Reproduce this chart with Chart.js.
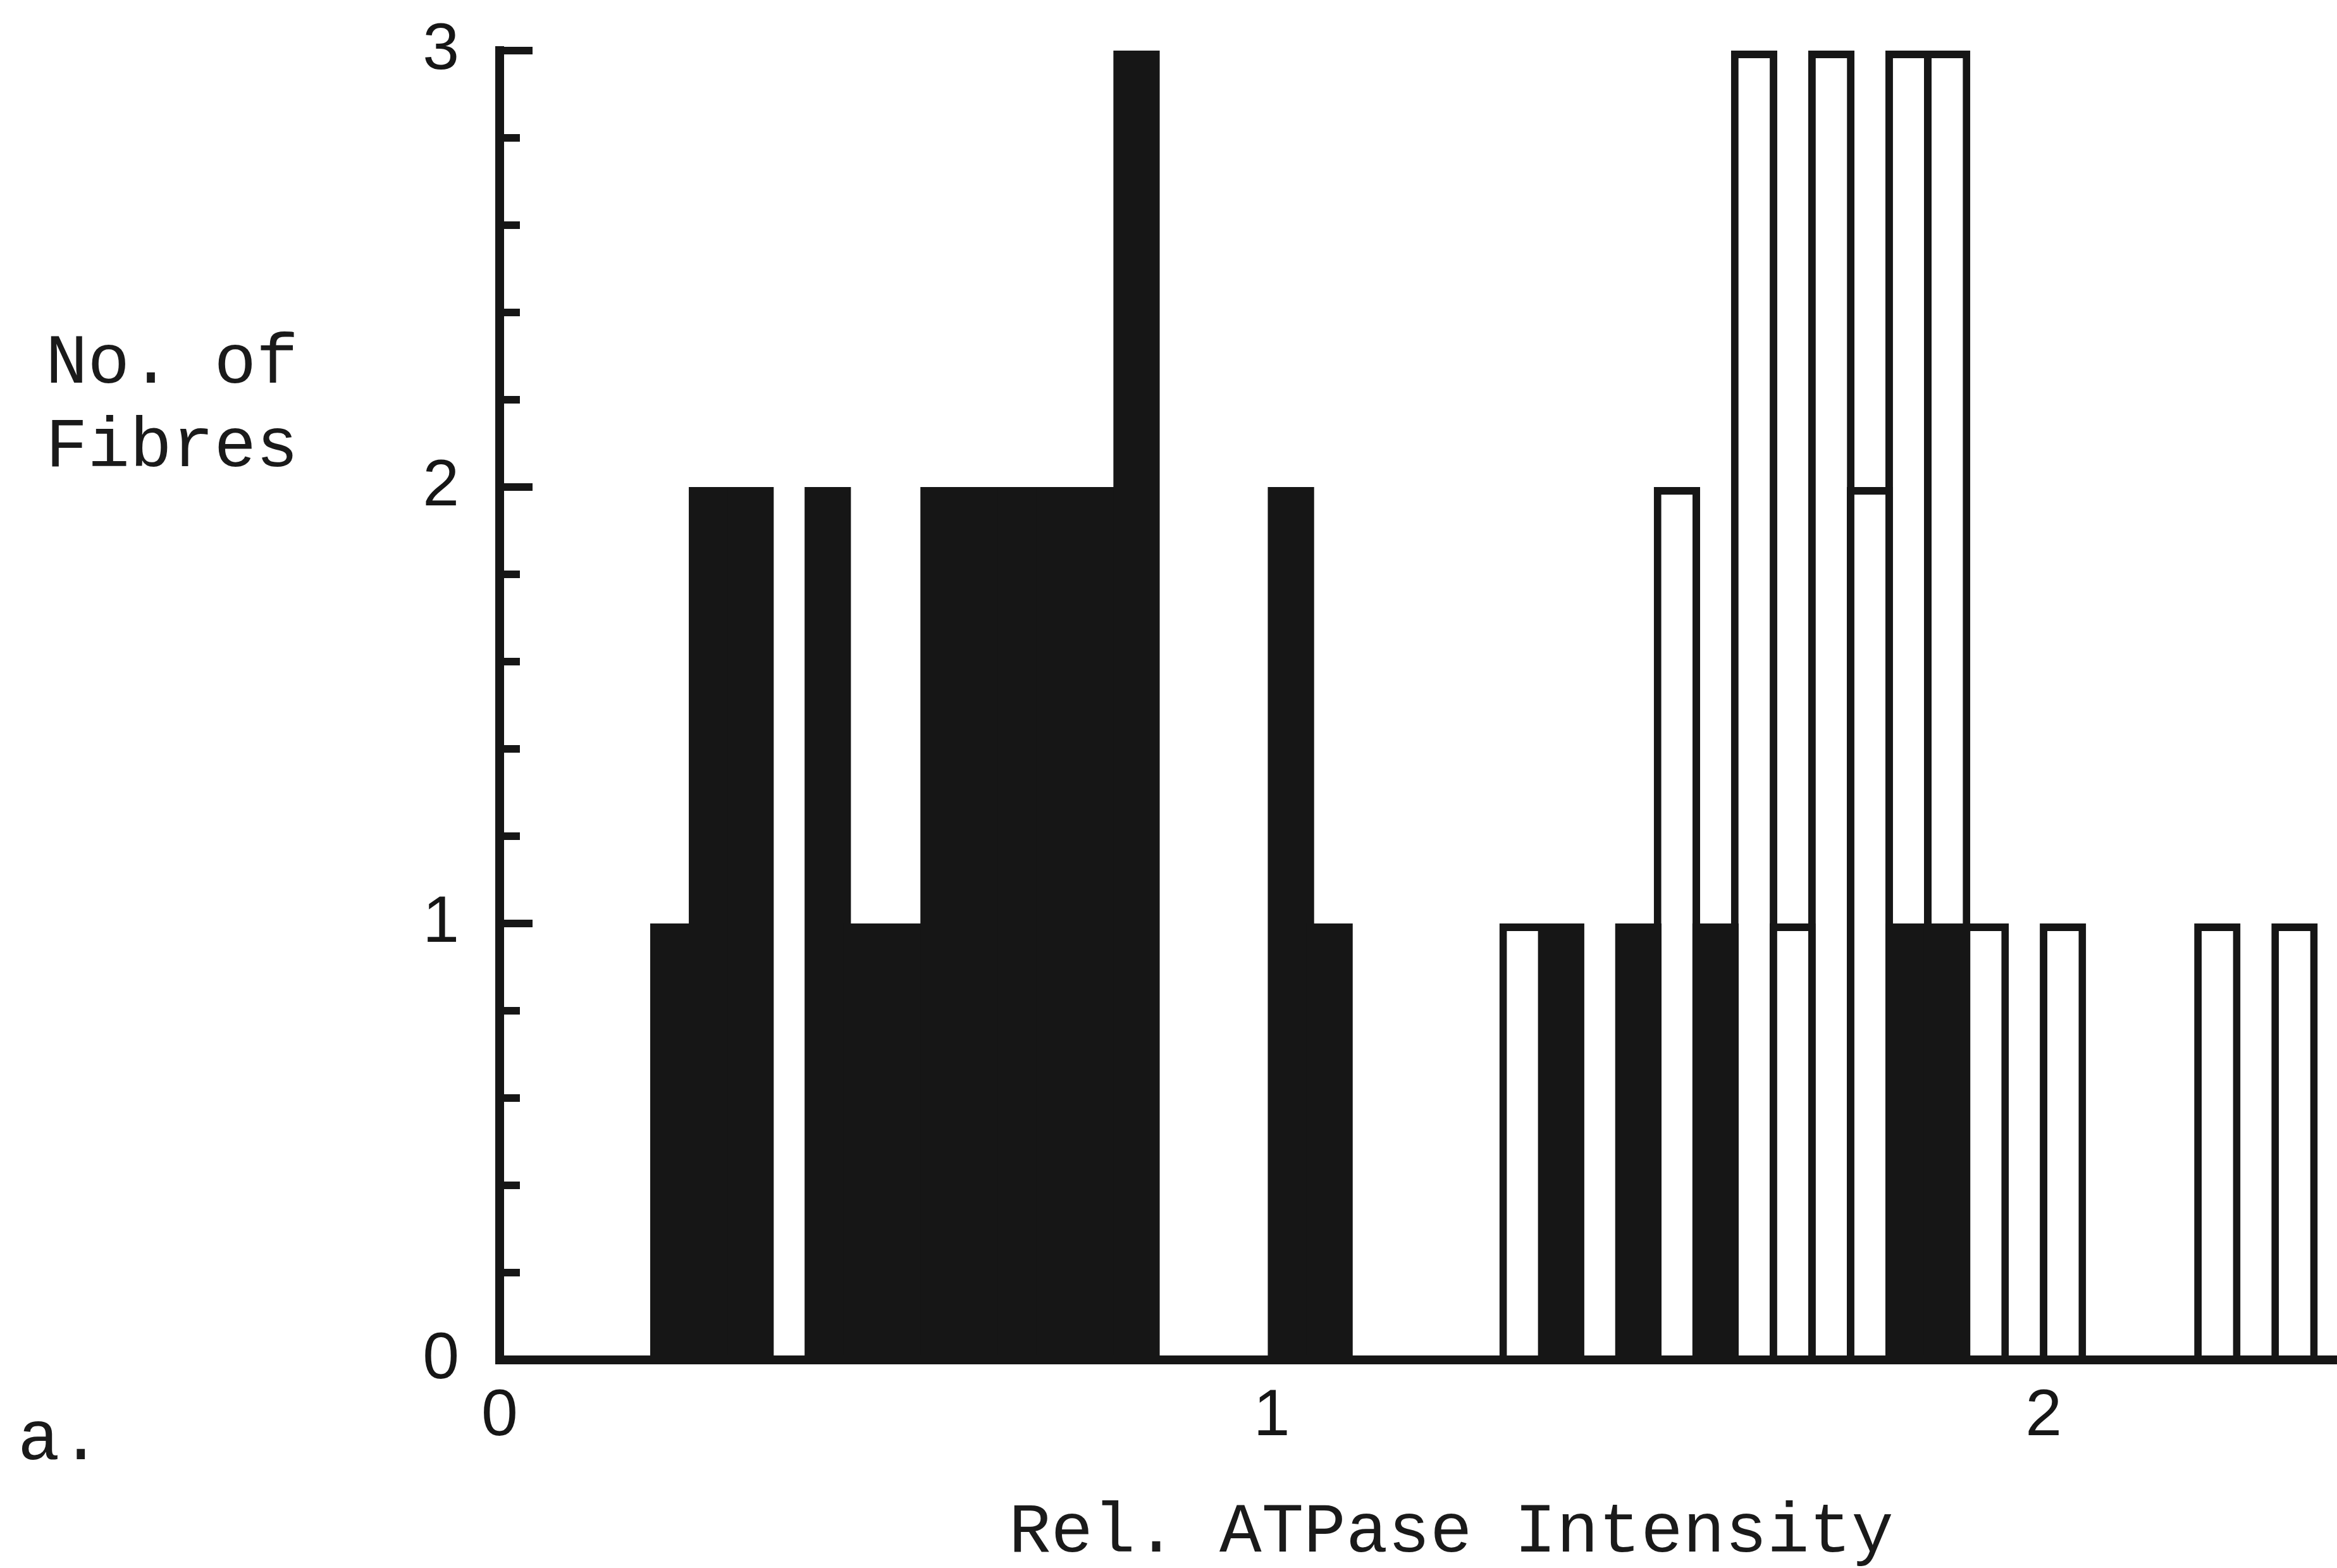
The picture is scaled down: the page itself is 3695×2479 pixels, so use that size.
<!DOCTYPE html>
<html>
<head>
<meta charset="utf-8">
<title>Rel. ATPase Intensity</title>
<script src="https://cdn.jsdelivr.net/npm/chart.js@4.4.1/dist/chart.umd.min.js"></script>
<style>
  html, body { margin: 0; padding: 0; background: #fff; overflow: hidden; }
  #wrap { position: relative; width: 3695px; height: 2479px; }
  #fibreChart { position: absolute; left: 0; top: 0; }
  .label {
    position: absolute;
    font-family: 'Liberation Mono', monospace;
    font-size: 111px;
    line-height: 1;
    color: #1a1a1a;
    white-space: pre;
  }
  #yTitle { left: 72px; top: 510px; line-height: 132px; }
  #xTitle { left: 1595px; top: 2368px; }
  #panel { left: 28px; top: 2222px; }
</style>
</head>
<body>
<div id="wrap">
  <canvas id="fibreChart" width="3695" height="2479"></canvas>
  <div class="label" id="yTitle">No. of<br>Fibres</div>
  <div class="label" id="xTitle">Rel. ATPase Intensity</div>
  <div class="label" id="panel">a.</div>
</div>
<script>
// histogram bins, 0.05 wide, given by their lower edge
const BIN = 0.05;
const binStarts = [
  0.20, 0.25, 0.30, 0.35, 0.40, 0.45, 0.50, 0.55, 0.60, 0.65, 0.70,
  0.75, 0.80, 0.85, 0.90, 0.95, 1.00, 1.05, 1.10, 1.15, 1.20, 1.25,
  1.30, 1.35, 1.40, 1.45, 1.50, 1.55, 1.60, 1.65, 1.70, 1.75, 1.80,
  1.85, 1.90, 1.95, 2.00, 2.05, 2.10, 2.15, 2.20, 2.25, 2.30
];
// filled bars
const darkCounts = [
  1, 2, 2, 0, 2, 1, 1, 2, 2, 2, 2,
  2, 3, 0, 0, 0, 2, 1, 0, 0, 0, 0,
  0, 1, 0, 1, 0, 1, 0, 0, 0, 0, 1,
  1, 0, 0, 0, 0, 0, 0, 0, 0, 0
];
// open bars, stacked on top of the filled ones
const openCounts = [
  0, 0, 0, 0, 0, 0, 0, 0, 0, 0, 0,
  0, 0, 0, 0, 0, 0, 0, 0, 0, 0, 0,
  1, 0, 0, 0, 2, 0, 3, 1, 3, 2, 2,
  2, 1, 0, 1, 0, 0, 0, 1, 0, 1
];
const xTickValues = [0, 1, 2];
const yLabels = [0, 1, 2, 3];

const ink = '#161616';
const tickFont = { family: 'Liberation Sans', size: 104, lineHeight: 1.2 };

const toPoints = counts => binStarts.map((s, i) => ({ x: s + BIN / 2, y: counts[i] }));

// short tick marks on the inside of the y axis
const innerTicks = {
  id: 'innerTicks',
  afterDraw(chart) {
    const { ctx, chartArea, scales: { y } } = chart;
    ctx.save();
    ctx.strokeStyle = ink;
    ctx.lineWidth = 12;
    y.ticks.forEach(t => {
      const py = y.getPixelForValue(t.value);
      const len = yLabels.includes(t.value) ? 52 : 32;
      ctx.beginPath();
      ctx.moveTo(chartArea.left, py);
      ctx.lineTo(chartArea.left + len, py);
      ctx.stroke();
    });
    ctx.restore();
  }
};

// bars are a little wider than a bin so neighbouring outlines share one edge
const barStyle = {
  barPercentage: 1.2,
  categoryPercentage: 1,
  borderSkipped: 'start',
  inflateAmount: 0,
  stack: 'fibres'
};

new Chart(document.getElementById('fibreChart'), {
  type: 'bar',
  data: {
    datasets: [
      { ...barStyle, data: toPoints(darkCounts), backgroundColor: ink, borderWidth: 0 },
      { ...barStyle, data: toPoints(openCounts), backgroundColor: '#ffffff', borderColor: ink, borderWidth: 12 }
    ]
  },
  options: {
    responsive: false,
    devicePixelRatio: 1,
    animation: false,
    layout: { padding: { top: 80, right: 0, bottom: 0, left: 0 } },
    plugins: { legend: { display: false }, tooltip: { enabled: false } },
    scales: {
      x: {
        type: 'linear',
        min: 0,
        max: 2.38,
        offset: false,
        stacked: true,
        grid: { display: false },
        border: { display: true, color: ink, width: 14, z: 1 },
        ticks: { padding: 20, color: ink, font: tickFont, maxRotation: 0, autoSkip: false },
        afterBuildTicks: s => { s.ticks = xTickValues.map(v => ({ value: v })); },
        afterFit: s => { s.height = 329; s.paddingLeft = 0; s.paddingRight = 0; }
      },
      y: {
        min: 0,
        max: 3,
        stacked: true,
        grid: { display: false },
        border: { display: true, color: ink, width: 14, z: 1 },
        ticks: {
          stepSize: 0.2,
          padding: 56,
          color: ink,
          font: tickFont,
          autoSkip: false,
          callback: v => yLabels.includes(v) ? String(v) : ''
        },
        afterFit: s => { s.width = 790; s.paddingTop = 0; s.paddingBottom = 0; }
      }
    }
  },
  plugins: [innerTicks]
});
</script>
</body>
</html>
